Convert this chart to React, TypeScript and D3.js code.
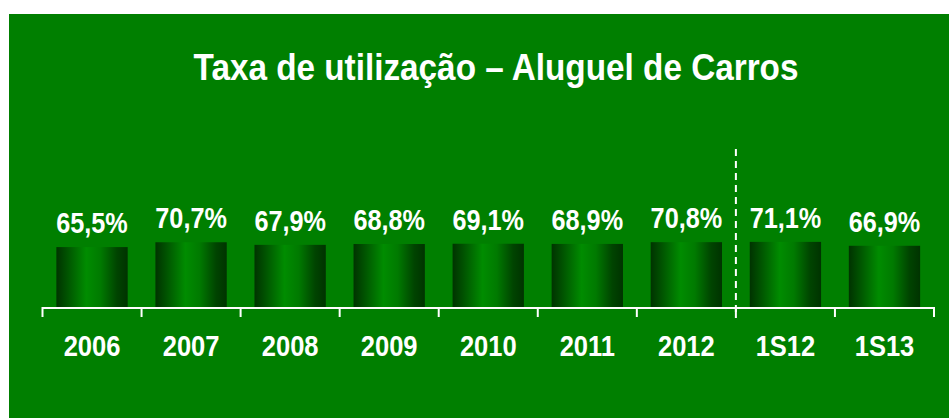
import React, { useRef, useEffect } from 'react';
import * as d3 from 'd3';

const categories = ['2006', '2007', '2008', '2009', '2010', '2011', '2012', '1S12', '1S13'];
const values = [65.5, 70.7, 67.9, 68.8, 69.1, 68.9, 70.8, 71.1, 66.9];
const valueLabels = ['65,5%', '70,7%', '67,9%', '68,8%', '69,1%', '68,9%', '70,8%', '71,1%', '66,9%'];
const splitAfter = '2012';
const title = 'Taxa de utilização – Aluguel de Carros';

const WIDTH = 949;
const HEIGHT = 418;

const App: React.FC = () => {
    const ref = useRef<SVGSVGElement | null>(null);

    useEffect(() => {
        if (!ref.current) return;
        const svg = d3.select(ref.current);
        svg.selectAll('*').remove();

        const font = '"Liberation Sans", Arial, Helvetica, sans-serif';
        const axisY = 308;

        // ─── background ───────────────────────────────────────────
        svg.append('rect')
            .attr('x', 9)
            .attr('y', 14)
            .attr('width', WIDTH - 9)
            .attr('height', HEIGHT - 14)
            .attr('fill', '#007f00');

        // ─── gradient for the bars ────────────────────────────────
        const grad = svg.append('defs')
            .append('linearGradient')
            .attr('id', 'barGrad')
            .attr('x1', '0%').attr('x2', '100%')
            .attr('y1', '0%').attr('y2', '0%');
        [
            [0, '#003300'],
            [0.15, '#005200'],
            [0.42, '#008c00'],
            [0.62, '#007a00'],
            [0.85, '#004400'],
            [1, '#003300'],
        ].forEach(([o, c]) => grad.append('stop').attr('offset', o as number).attr('stop-color', c as string));

        // ─── scales ───────────────────────────────────────────────
        const x = d3.scaleBand<string>()
            .domain(categories)
            .range([42.5, 934])
            .paddingInner(0.28)
            .paddingOuter(0.14);
        const step = x.step();
        const bandStart = (c: string) => x(c)! - x.paddingInner() * step / 2;

        const y = d3.scaleLinear().domain([0, 100]).range([axisY, axisY - 93]);

        // ─── title ────────────────────────────────────────────────
        svg.append('text')
            .attr('transform', `translate(496,80) scale(0.9,1)`)
            .attr('text-anchor', 'middle')
            .style('font-family', font)
            .style('font-weight', 700)
            .style('font-size', '37px')
            .style('fill', '#fff')
            .text(title);

        // ─── bars ─────────────────────────────────────────────────
        svg.append('g')
            .selectAll('rect')
            .data(values)
            .enter()
            .append('rect')
            .attr('x', (_, i) => x(categories[i])!)
            .attr('width', x.bandwidth())
            .attr('y', d => y(d))
            .attr('height', d => y(0) - y(d))
            .attr('fill', 'url(#barGrad)');

        // ─── value labels ─────────────────────────────────────────
        svg.append('g')
            .selectAll('text')
            .data(values)
            .enter()
            .append('text')
            .attr('transform', (d, i) =>
                `translate(${x(categories[i])! + x.bandwidth() / 2},${y(d) - 14}) scale(0.87,1)`)
            .attr('text-anchor', 'middle')
            .style('font-family', font)
            .style('font-weight', 700)
            .style('font-size', '29px')
            .style('fill', '#fff')
            .text((_, i) => valueLabels[i]);

        // ─── axis with ticks at band boundaries ───────────────────
        const axis = svg.append('g');
        axis.append('line')
            .attr('x1', bandStart(categories[0]))
            .attr('x2', bandStart(categories[0]) + step * categories.length)
            .attr('y1', axisY).attr('y2', axisY)
            .attr('stroke', '#fff')
            .attr('stroke-width', 2);
        axis.selectAll('line.tick')
            .data(d3.range(categories.length + 1))
            .enter()
            .append('line')
            .attr('class', 'tick')
            .attr('x1', i => bandStart(categories[0]) + step * i)
            .attr('x2', i => bandStart(categories[0]) + step * i)
            .attr('y1', axisY - 1)
            .attr('y2', axisY + 9)
            .attr('stroke', '#fff')
            .attr('stroke-width', 2);

        axis.selectAll('text')
            .data(categories)
            .enter()
            .append('text')
            .attr('transform', c => `translate(${x(c)! + x.bandwidth() / 2},356) scale(0.85,1)`)
            .attr('text-anchor', 'middle')
            .style('font-family', font)
            .style('font-weight', 700)
            .style('font-size', '30px')
            .style('fill', '#fff')
            .text(c => c);

        // ─── dashed separator ─────────────────────────────────────
        const sepX = bandStart(splitAfter) + step;
        svg.append('line')
            .attr('x1', sepX).attr('x2', sepX)
            .attr('y1', 149).attr('y2', 318)
            .attr('stroke', '#fff')
            .attr('stroke-width', 2)
            .attr('stroke-dasharray', '7,5');
    }, []);

    return (
        <svg
            ref={ref}
            width={WIDTH}
            height={HEIGHT}
            style={{ position: 'absolute', left: 0, top: 0, display: 'block' }}
        />
    );
};

export default App;
